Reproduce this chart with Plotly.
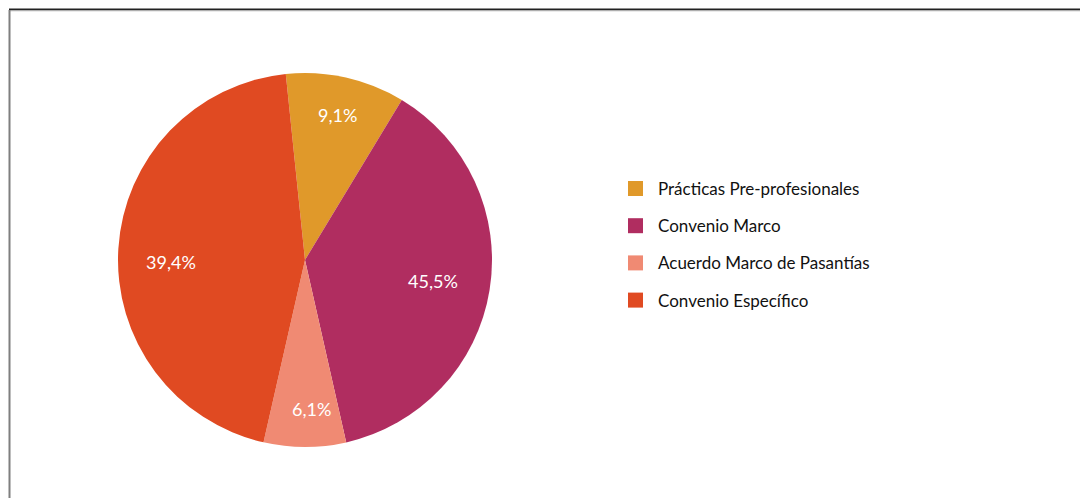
import math

import plotly.graph_objects as go

# Slice data. The wedge sizes follow the drawn
# geometry; the printed labels are the ones shown on the chart.
labels = [
    "Prácticas Pre-profesionales",
    "Convenio Marco",
    "Acuerdo Marco de Pasantías",
    "Convenio Específico",
]
values = [10.3, 37.8, 7.1, 44.8]
pct_text = ["9,1%", "45,5%", "6,1%", "39,4%"]
colors = ["#E0992A", "#B02D60", "#F08A73", "#E04A22"]

W, H = 1088, 498
FONT = "Lato, 'Open Sans', sans-serif"

# Pie geometry in figure pixels (page body adds an 8px offset).
CX, CY, R = 297, 252, 187
ROTATION = -5.9
# label placement: fraction of radius, and nudge off the mid angle (deg)
label_radius = [0.795, 0.695, 0.80, 0.717]
label_nudge = [0.0, 0.0, -2.7, -4.5]

pie = go.Pie(
    labels=labels,
    values=values,
    textinfo="none",
    marker={"colors": colors, "line": {"width": 0}},
    sort=False,
    direction="clockwise",
    rotation=ROTATION,
    showlegend=False,
    text=pct_text,
    hoverinfo="label+text",
    domain={
        "x": [(CX - R) / W, (CX + R) / W],
        "y": [1 - (CY + R) / H, 1 - (CY - R) / H],
    },
)

fig = go.Figure(data=[pie])

shapes = [
    # frame: dark top rule and grey left rule
    {"type": "line", "xref": "paper", "yref": "paper",
     "x0": 1 / W, "x1": 1, "y0": 1 - 1.5 / H, "y1": 1 - 1.5 / H,
     "line": {"color": "#222222", "width": 2}},
    {"type": "line", "xref": "paper", "yref": "paper",
     "x0": 1 / W, "x1": 1, "y0": 1 - 2.8 / H, "y1": 1 - 2.8 / H,
     "line": {"color": "#bbbbbb", "width": 1}},
    {"type": "line", "xref": "paper", "yref": "paper",
     "x0": 1.5 / W, "x1": 1.5 / W, "y0": 0, "y1": 1 - 2 / H,
     "line": {"color": "#7f7f7f", "width": 2}},
]
annotations = []

# Percentage labels near each slice's mid angle.
total = sum(values)
start = ROTATION
for val, txt, frac, nudge in zip(values, pct_text, label_radius, label_nudge):
    sweep = 360.0 * val / total
    mid = math.radians(start + sweep / 2 + nudge)
    start += sweep
    px = CX + frac * R * math.sin(mid)
    py = CY - frac * R * math.cos(mid)
    annotations.append({
        "xref": "paper", "yref": "paper",
        "x": px / W, "y": 1 - py / H,
        "xanchor": "center", "yanchor": "middle",
        "text": txt, "showarrow": False,
        "font": {"family": FONT, "size": 18, "color": "white"},
    })

# Hand-built legend so the row spacing matches the reference.
for idx, (name, color) in enumerate(zip(labels, colors)):
    cy = 180.5 + idx * 37.2
    shapes.append({
        "type": "rect", "xref": "paper", "yref": "paper",
        "x0": 620 / W, "x1": 635 / W,
        "y0": 1 - (cy + 7.5) / H, "y1": 1 - (cy - 7.5) / H,
        "fillcolor": color, "line": {"width": 0},
    })
    annotations.append({
        "xref": "paper", "yref": "paper",
        "x": 648 / W, "y": 1 - cy / H,
        "xanchor": "left", "yanchor": "middle",
        "text": name, "showarrow": False,
        "font": {"family": FONT, "size": 17, "color": "#111111"},
    })

fig.update_layout(
    width=W,
    height=H,
    margin={"l": 0, "r": 0, "t": 0, "b": 0},
    paper_bgcolor="white",
    plot_bgcolor="white",
    shapes=shapes,
    annotations=annotations,
)

fig.write_html("out.html")
